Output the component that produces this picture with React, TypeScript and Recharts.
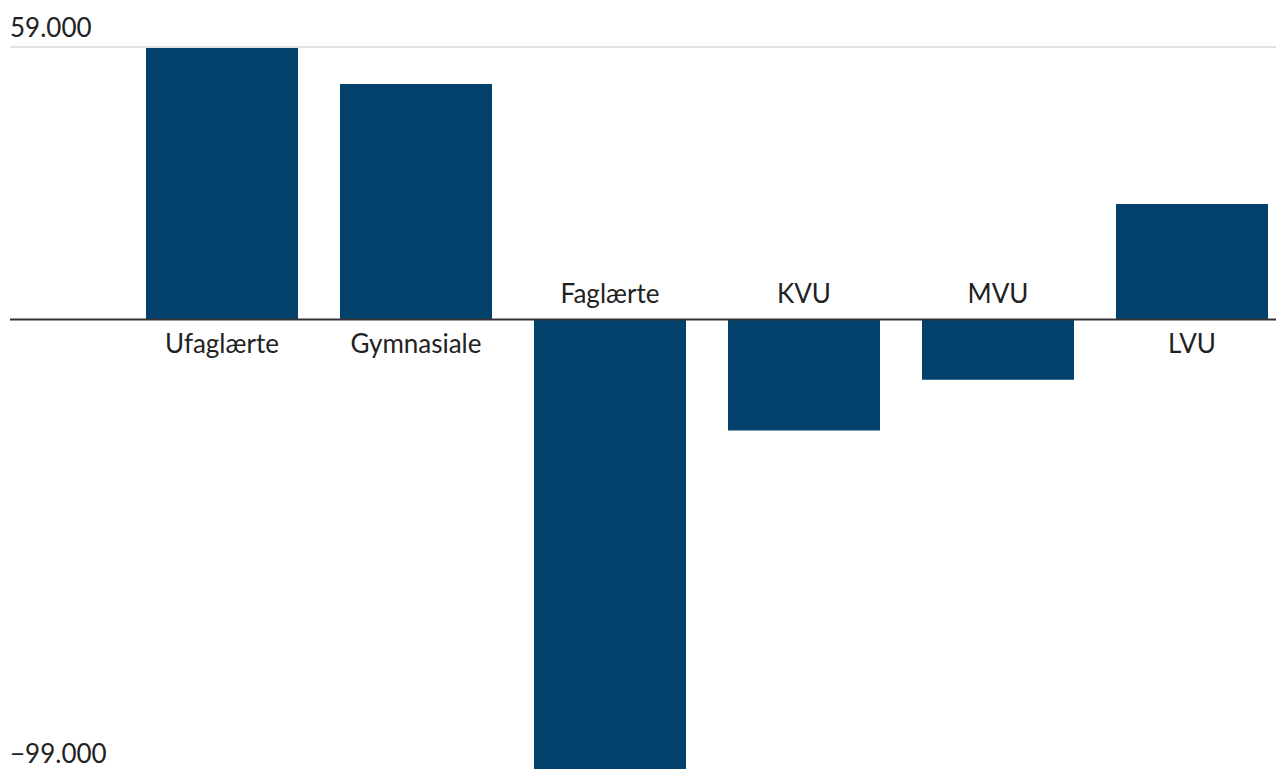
import { Bar, BarChart, LabelList, XAxis, YAxis } from "recharts";

const categories = ["Ufaglærte", "Gymnasiale", "Faglærte", "KVU", "MVU", "LVU"];
const values = [59000, 51000, -99000, -24000, -13000, 25000];
const yTicks = [-99000, 0, 59000];

const data = categories.map((name, i) => ({ name, value: values[i] }));

const BAR = "#02416b";
const FONT = "Lato, 'Open Sans', sans-serif";

function formatDk(v: number) {
  const s = Math.abs(v).toString().replace(/\B(?=(\d{3})+(?!\d))/g, ".");
  return v < 0 ? "\u2212" + s : s;
}

function YTick(props: any) {
  const { y, payload } = props;
  const v = payload.value;
  if (v === 0) {
    return <line x1={10} x2={1276} y1={y} y2={y} stroke="#333" strokeWidth={2} />;
  }
  return (
    <g>
      <line x1={10} x2={1276} y1={y} y2={y} stroke="#e3e3e3" strokeWidth={2} />
      <text x={10} y={v < 0 ? y - 14 : y - 10} fill="#222" fontSize={26} fontFamily={FONT}>
        {formatDk(v)}
      </text>
    </g>
  );
}

function CatLabel(props: any) {
  const { x, y, width, height, value, index } = props;
  const v = values[index];
  const top = Math.min(y, y + height);
  const bottom = Math.max(y, y + height);
  const zero = v >= 0 ? bottom : top;
  return (
    <text
      x={x + width / 2}
      y={v >= 0 ? zero + 33 : zero - 17}
      textAnchor="middle"
      fill="#222"
      fontSize={26}
      fontFamily={FONT}
    >
      {value}
    </text>
  );
}

export default function App() {
  return (
    <div
      style={{
        position: "absolute",
        left: 0,
        top: 0,
        width: 1276,
        height: 769,
        overflow: "hidden",
        background: "#fff",
      }}
    >
      <BarChart
        width={1289}
        height={777}
        data={data}
        margin={{ top: 47, right: 0, bottom: 0, left: 124 }}
      >
        <XAxis dataKey="name" hide />
        <YAxis
          width={1}
          domain={[-99000, 59000]}
          ticks={yTicks}
          axisLine={false}
          tickLine={false}
          tick={(p: any) => <YTick {...p} />}
          interval={0}
        />
        <Bar dataKey="value" fill={BAR} barSize={152} isAnimationActive={false}>
          <LabelList dataKey="name" content={<CatLabel />} />
        </Bar>
      </BarChart>
    </div>
  );
}
